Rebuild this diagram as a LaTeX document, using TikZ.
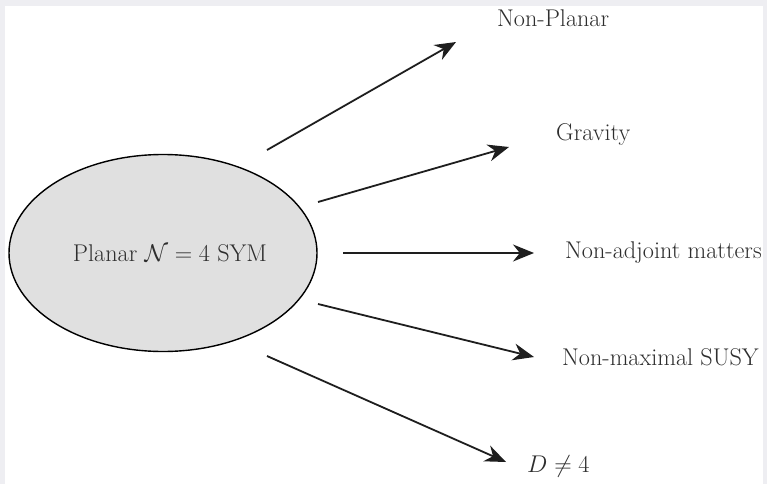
\RequirePackage{fix-cm}
\documentclass[tikz,border=0pt]{standalone}
\usepackage{fontspec}
\usetikzlibrary{arrows.meta,shapes.geometric}
\definecolor{framegray}{HTML}{EEEEF2}
\definecolor{txt}{HTML}{2E2E2E}
\definecolor{ink}{HTML}{1E1E1E}
\definecolor{fillgray}{HTML}{E0E0E0}
\tikzset{
  lbl/.style={text=txt,font=\fontsize{24.2}{29}\selectfont,inner sep=0pt},
  arr/.style={draw=ink,line width=1.8pt,-{Stealth[length=21pt,width=17pt]}}
}
\begin{document}
\begin{tikzpicture}[x=1pt,y=-1pt]
\useasboundingbox (0,0) rectangle (767,484);
\fill[framegray] (0,0) rectangle (767,484);
\fill[white] (5,6) rectangle (763,484);
\node[ellipse,draw=black,line width=1.4pt,fill=fillgray,minimum width=308,minimum height=197,inner sep=0pt] (core) at (163,253) {};
\node[lbl] (corelbl) at (170,253) {Planar $\mathcal{N}=4$ SYM};
\node[lbl,anchor=west] (np) at (497,18) {Non-Planar};
\node[lbl,anchor=west] (gr) at (556,134) {Gravity};
\node[lbl,anchor=west] (na) at (565,253) {Non-adjoint matters};
\node[lbl,anchor=west] (nm) at (562,357) {Non-maximal SUSY};
\node[lbl,anchor=west] (dd) at (527,466) {$D\neq4$};
\coordinate (s1) at (267,150); \coordinate (e1) at (456,42);
\coordinate (s2) at (318,202); \coordinate (e2) at (509,147);
\coordinate (s3) at (343,253); \coordinate (e3) at (534,253);
\coordinate (s4) at (318,304); \coordinate (e4) at (534,357);
\coordinate (s5) at (267,356); \coordinate (e5) at (506,462);
\draw[arr] (s1) -- (e1);
\draw[arr] (s2) -- (e2);
\draw[arr] (s3) -- (e3);
\draw[arr] (s4) -- (e4);
\draw[arr] (s5) -- (e5);
\end{tikzpicture}
\end{document}
